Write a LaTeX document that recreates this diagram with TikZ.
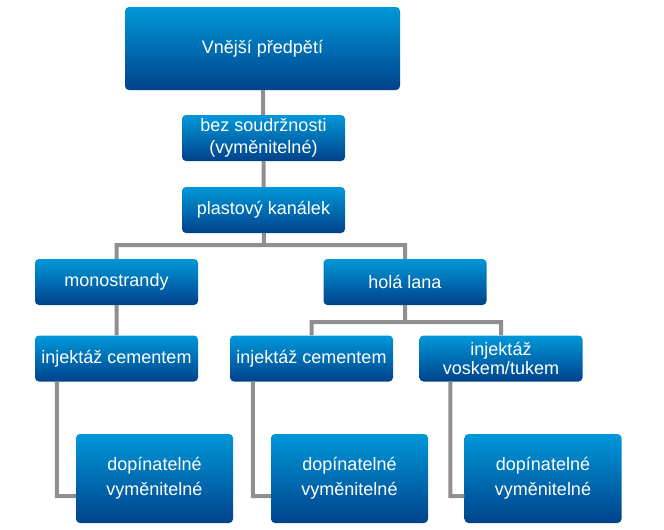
\documentclass[tikz,border=0pt]{standalone}
\usepackage{fontspec}
\setmainfont{Liberation Sans}
\definecolor{boxtop}{RGB}{0,152,218}
\definecolor{boxbot}{RGB}{0,66,138}
\definecolor{linegray}{RGB}{143,143,143}
\begin{document}
\begin{tikzpicture}[x=1pt, y=-1pt,
        box/.style={rounded corners=4pt, top color=boxtop, bottom color=boxbot,
            text=white, align=center, inner sep=0pt,
            font=\fontsize{18}{22}\selectfont},
        midbox/.style={box, minimum width=163pt, minimum height=46pt},
        lowbox/.style={box, minimum width=157pt, minimum height=89pt,
            font=\fontsize{18}{25}\selectfont},
        conn/.style={draw=linegray, line width=4pt}]
        \useasboundingbox (0,0) rectangle (664,530);

        \node[box, minimum width=275pt, minimum height=83pt] (V) at (262.5, 48.5) {Vnější předpětí};
        \node[midbox] (B)  at (263.5, 138)   {bez soudržnosti\\(vyměnitelné)};
        \node[midbox] (P)  at (263.5, 210)   {plastový kanálek};
        \node[midbox] (M)  at (116.5, 282)   {monostrandy};
        \node[midbox] (H)  at (405, 282)     {holá lana};
        \node[midbox] (I1) at (116.5, 358.5) {injektáž cementem};
        \node[midbox] (I2) at (311.5, 358.5) {injektáž cementem};
        \node[midbox, font=\fontsize{18}{19}\selectfont] (I3) at (501, 358.5) {injektáž\\voskem/tukem};
        \node[lowbox] (D1) at (154.5, 478.5) {dopínatelné\\vyměnitelné};
        \node[lowbox] (D2) at (349.5, 478.5) {dopínatelné\\vyměnitelné};
        \node[lowbox] (D3) at (543, 478.5)   {dopínatelné\\vyměnitelné};

        \coordinate (S1) at (264, 245);
        \coordinate (S2) at (405, 322);

        \path[conn]
            (V) -- (B)
            (B) -- (P)
            (P) -- (S1) -| (M)
            (S1) -| (H)
            (M) -- (I1)
            (H) -- (S2) -| (I2)
            (S2) -| (I3)
            ([xshift=22pt]I1.south west) |- ([yshift=-17.5pt]D1.west)
            ([xshift=23pt]I2.south west) |- ([yshift=-17.5pt]D2.west)
            ([xshift=31pt]I3.south west) |- ([yshift=-17.5pt]D3.west);
    \end{tikzpicture}
\end{document}
